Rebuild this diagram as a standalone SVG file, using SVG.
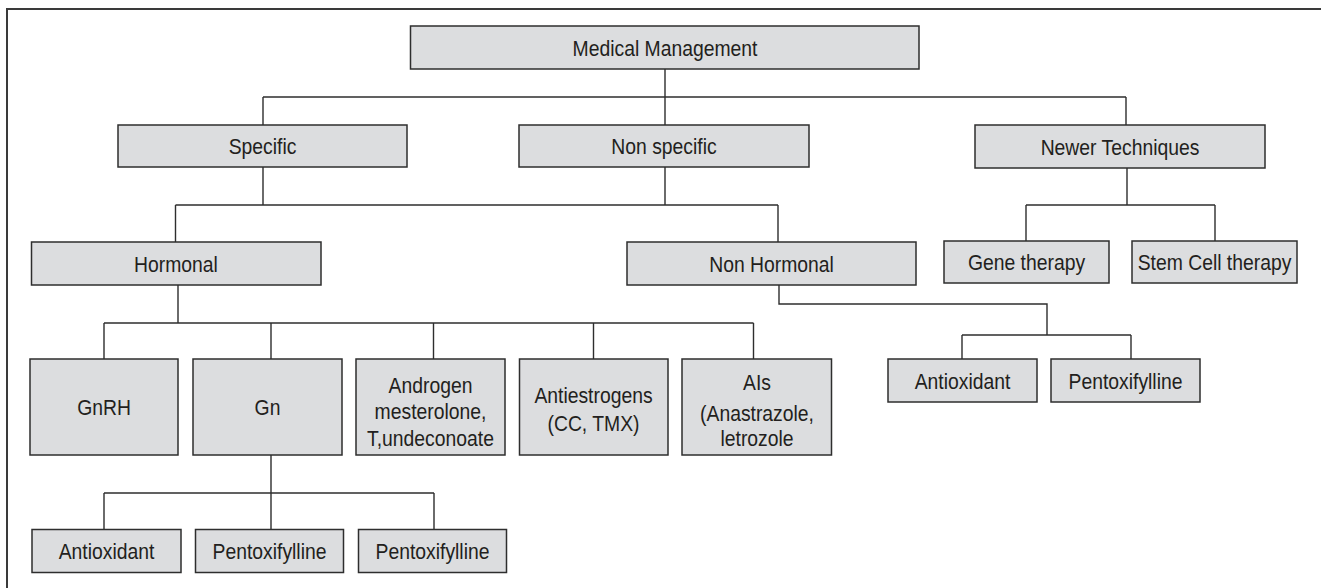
<svg xmlns="http://www.w3.org/2000/svg" width="1321" height="588" viewBox="0 0 1321 588">
<style>
.box{fill:#dcdddf;stroke:#2e2e2e;stroke-width:1.5}
.t{font-family:"Liberation Sans",Arial,sans-serif;font-size:21.5px;fill:#231f20;text-anchor:middle}
.c{fill:none;stroke:#2e2e2e;stroke-width:1.4}
.frame{fill:none;stroke:#3a3a3a;stroke-width:2}
</style>
<rect width="1321" height="588" fill="#ffffff"/>
<path class="frame" d="M7,588 V9 H1321"/>
<g id="connectors">
<path class="c" d="M665,69 V97 M263,97 H1126 M263,97 V125 M665,97 V125 M1126,97 V125"/>
<path class="c" d="M263,167 V205 M665,167 V205 M175.5,205 H778 M175.5,205 V242 M778,205 V242"/>
<path class="c" d="M1127,168 V205 M1026,205 H1215 M1026,205 V241 M1215,205 V241"/>
<path class="c" d="M178,285 V323 M104,323 H753.5 M104,323 V359 M271,323 V359 M433.5,323 V359 M593.5,323 V359 M753.5,323 V359"/>
<path class="c" d="M779,285 V304 H1047 V335 M962,335 H1131 M962,335 V359 M1131,335 V359"/>
<path class="c" d="M271,455 V493 M104,493 H434 M104,493 V529.5 M271,493 V529.5 M434,493 V529.5"/>
</g>
<g id="n-medical"><rect class="box" x="410.5" y="26" width="508.5" height="43"/><text class="t" transform="translate(665,55.5) scale(0.9,1)">Medical Management</text></g>
<g id="n-specific"><rect class="box" x="118" y="125" width="289" height="42"/><text class="t" transform="translate(262.5,154) scale(0.9,1)">Specific</text></g>
<g id="n-nonspecific"><rect class="box" x="519" y="125" width="290" height="42"/><text class="t" transform="translate(664,154) scale(0.9,1)">Non specific</text></g>
<g id="n-newer"><rect class="box" x="975" y="125" width="290" height="43"/><text class="t" transform="translate(1120,154.5) scale(0.9,1)">Newer Techniques</text></g>
<g id="n-hormonal"><rect class="box" x="31.5" y="242" width="289.5" height="43"/><text class="t" transform="translate(176,271.5) scale(0.9,1)">Hormonal</text></g>
<g id="n-nonhormonal"><rect class="box" x="627" y="242" width="289" height="43"/><text class="t" transform="translate(771.5,271.5) scale(0.9,1)">Non Hormonal</text></g>
<g id="n-gene"><rect class="box" x="944" y="241" width="165" height="42"/><text class="t" transform="translate(1026.5,270) scale(0.9,1)">Gene therapy</text></g>
<g id="n-stem"><rect class="box" x="1132" y="241" width="165" height="42"/><text class="t" transform="translate(1214.5,270) scale(0.9,1)">Stem Cell therapy</text></g>
<g id="n-gnrh"><rect class="box" x="30" y="359" width="148" height="96"/><text class="t" transform="translate(104,415) scale(0.9,1)">GnRH</text></g>
<g id="n-gn"><rect class="box" x="193" y="359" width="149" height="96"/><text class="t" transform="translate(267.5,415) scale(0.9,1)">Gn</text></g>
<g id="n-androgen"><rect class="box" x="356" y="359" width="149" height="96"/><text class="t" transform="translate(430.5,392.5) scale(0.9,1)">Androgen</text><text class="t" transform="translate(430.5,419) scale(0.9,1)">mesterolone,</text><text class="t" transform="translate(430.5,445.5) scale(0.9,1)">T,undeconoate</text></g>
<g id="n-antiestrogens"><rect class="box" x="519.5" y="359" width="148.5" height="96"/><text class="t" transform="translate(593.5,402.5) scale(0.9,1)">Antiestrogens</text><text class="t" transform="translate(593.5,430.5) scale(0.9,1)">(CC, TMX)</text></g>
<g id="n-ais"><rect class="box" x="682" y="359" width="149.5" height="96"/><text class="t" transform="translate(757,389.5) scale(0.9,1)">AIs</text><text class="t" transform="translate(757,420.5) scale(0.9,1)">(Anastrazole,</text><text class="t" transform="translate(757,446) scale(0.9,1)">letrozole</text></g>
<g id="n-antioxidant-r"><rect class="box" x="888" y="359" width="149" height="43"/><text class="t" transform="translate(962.5,388.5) scale(0.9,1)">Antioxidant</text></g>
<g id="n-pentox-r"><rect class="box" x="1051" y="359" width="149" height="43"/><text class="t" transform="translate(1125.5,388.5) scale(0.9,1)">Pentoxifylline</text></g>
<g id="n-antioxidant-b"><rect class="box" x="32" y="529.5" width="149" height="43"/><text class="t" transform="translate(106.5,559) scale(0.9,1)">Antioxidant</text></g>
<g id="n-pentox-b1"><rect class="box" x="195.5" y="529.5" width="148" height="43"/><text class="t" transform="translate(269.5,559) scale(0.9,1)">Pentoxifylline</text></g>
<g id="n-pentox-b2"><rect class="box" x="358.5" y="529.5" width="148" height="43"/><text class="t" transform="translate(432.5,559) scale(0.9,1)">Pentoxifylline</text></g>
</svg>
